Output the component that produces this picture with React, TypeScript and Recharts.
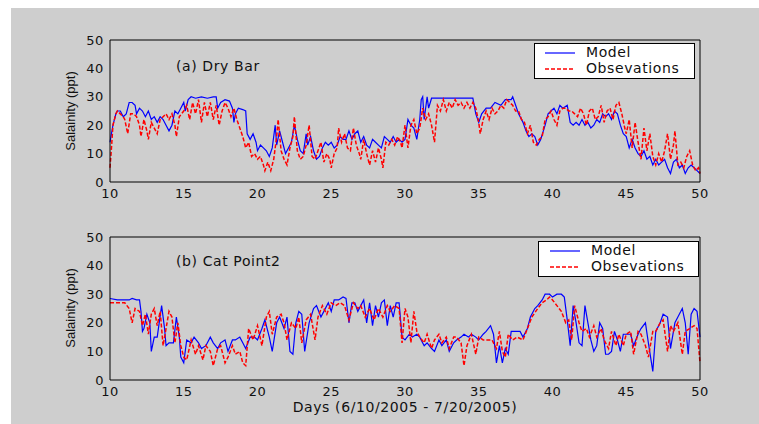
import React from 'react';
import { LineChart, Line, XAxis, YAxis } from 'recharts';

const dayTicks = [10, 15, 20, 25, 30, 35, 40, 45, 50];
const salinityTicks = [0, 10, 20, 30, 40, 50];

// (a) Dry Bar
const dryBarModel: [number, number][] = [
  [10, 14], [10.1, 17], [10.2, 20], [10.4, 24], [10.5, 25], [10.7, 25], [10.9, 23], [11.1, 24], [11.3, 28], [11.5, 28],
  [11.7, 27], [11.8, 24], [12, 26], [12.2, 25], [12.4, 23], [12.6, 25], [12.8, 22], [13, 23], [13.2, 21], [13.4, 23],
  [13.6, 22], [13.8, 20], [14, 18], [14.2, 20], [14.4, 25], [14.6, 24], [14.8, 26], [15, 28], [15.1, 25], [15.3, 29],
  [15.5, 30], [15.8, 29.5], [16.2, 30], [16.6, 29.5], [17, 30], [17.2, 30], [17.3, 26], [17.5, 28], [17.8, 29], [18.1, 28.5],
  [18.3, 26], [18.4, 21], [18.5, 24], [18.7, 26], [19, 25.5], [19.2, 25], [19.3, 17], [19.5, 15], [19.7, 17], [19.9, 14],
  [20, 11], [20.2, 13], [20.4, 12], [20.6, 11], [20.8, 9], [21, 12], [21.2, 20], [21.3, 13], [21.5, 18], [21.7, 14],
  [21.9, 10], [22.1, 12], [22.3, 14], [22.5, 20], [22.7, 15], [22.9, 11], [23.1, 10], [23.3, 17], [23.4, 13], [23.6, 16],
  [23.8, 11], [24, 8], [24.2, 9], [24.4, 12], [24.6, 14], [24.8, 13], [25, 14], [25.2, 12], [25.4, 13], [25.6, 16],
  [25.8, 15], [26, 15], [26.2, 18], [26.4, 15], [26.6, 17], [26.8, 18], [27, 14], [27.2, 16], [27.4, 13], [27.6, 12],
  [27.8, 15], [28, 14], [28.2, 13], [28.4, 12], [28.6, 16], [28.8, 15], [29, 14], [29.2, 16], [29.4, 14], [29.6, 15],
  [29.8, 14], [30, 15], [30.2, 22], [30.4, 20], [30.6, 19], [30.8, 15], [31, 22], [31.1, 29], [31.2, 30], [31.3, 22],
  [31.5, 30], [31.6, 26], [31.8, 29.5], [32.2, 29.5], [33, 29.5], [34, 29.5], [34.6, 29.5], [34.8, 24], [35, 21], [35.2, 24],
  [35.5, 26], [35.8, 26], [36.1, 28], [36.5, 27], [36.8, 29], [37.2, 29], [37.3, 30], [37.5, 27], [37.7, 24], [38, 21],
  [38.2, 18], [38.4, 16], [38.6, 17], [38.8, 16], [39, 13], [39.2, 15], [39.5, 20], [39.7, 24], [39.9, 25], [40.1, 26],
  [40.3, 24], [40.5, 27], [40.7, 26], [41, 27], [41.2, 21], [41.4, 20], [41.6, 21], [41.8, 20], [42, 22], [42.2, 20],
  [42.4, 21], [42.6, 19], [42.8, 20], [43, 22], [43.2, 21], [43.4, 24], [43.6, 23], [43.8, 24], [44, 22], [44.2, 25],
  [44.4, 24], [44.6, 20], [44.8, 17], [45, 16], [45.2, 12], [45.4, 15], [45.6, 12], [45.8, 10], [46, 9], [46.2, 11],
  [46.4, 8], [46.6, 9], [46.8, 6], [47, 8], [47.2, 6], [47.4, 7], [47.6, 8], [47.8, 5], [48, 3], [48.2, 7],
  [48.4, 8], [48.6, 5], [48.8, 6], [49, 3], [49.2, 5], [49.4, 6], [49.6, 5], [49.8, 4], [50, 3],
];

const dryBarObs: [number, number][] = [
  [10, 5], [10.1, 12], [10.2, 20], [10.4, 24], [10.5, 25], [10.7, 24], [10.9, 23], [11, 22], [11.2, 17], [11.4, 24],
  [11.6, 24], [11.8, 23], [12, 20], [12.1, 16], [12.3, 22], [12.5, 18], [12.6, 15], [12.8, 21], [13, 19], [13.2, 17],
  [13.4, 22], [13.6, 23], [13.8, 24], [14, 22], [14.2, 24], [14.4, 20], [14.5, 16], [14.7, 23], [15, 25], [15.2, 27],
  [15.4, 22], [15.6, 28], [15.8, 24], [16, 29], [16.2, 21], [16.4, 28], [16.6, 23], [16.8, 28], [17, 22], [17.2, 27],
  [17.4, 20], [17.6, 25], [17.8, 28], [18, 26], [18.2, 23], [18.4, 26], [18.6, 22], [18.8, 19], [19, 16], [19.2, 12],
  [19.4, 14], [19.6, 9], [19.8, 10], [20, 8], [20.2, 9], [20.4, 6], [20.5, 4], [20.7, 7], [20.9, 4], [21.1, 8],
  [21.3, 16], [21.4, 22], [21.6, 11], [21.8, 8], [22, 6], [22.2, 12], [22.4, 16], [22.5, 23], [22.7, 11], [22.9, 8],
  [23.1, 9], [23.3, 13], [23.5, 20], [23.7, 9], [23.9, 8], [24.1, 11], [24.3, 14], [24.5, 7], [24.7, 10], [24.9, 8],
  [25, 5], [25.2, 10], [25.4, 12], [25.5, 19], [25.7, 14], [25.9, 17], [26.1, 12], [26.3, 11], [26.5, 19], [26.7, 13],
  [26.9, 10], [27, 8], [27.2, 15], [27.4, 10], [27.6, 6], [27.8, 11], [28, 7], [28.2, 12], [28.4, 8], [28.5, 5],
  [28.7, 14], [28.9, 13], [29.1, 15], [29.3, 13], [29.5, 16], [29.7, 14], [29.8, 12], [30, 20], [30.2, 12], [30.4, 20],
  [30.6, 22], [30.8, 17], [31, 19], [31.2, 26], [31.4, 22], [31.6, 24], [31.8, 20], [32, 14], [32.2, 27], [32.4, 25],
  [32.6, 29], [32.8, 25], [33, 28], [33.2, 26], [33.4, 29], [33.6, 27], [33.8, 28], [34, 26], [34.2, 28], [34.4, 26],
  [34.6, 28], [34.8, 26], [35, 21], [35.1, 17], [35.3, 22], [35.5, 25], [35.7, 22], [35.9, 26], [36.1, 24], [36.3, 25],
  [36.5, 27], [36.7, 26], [36.9, 29], [37.1, 28], [37.3, 27], [37.5, 25], [37.7, 25], [37.9, 22], [38.1, 21], [38.3, 17],
  [38.5, 20], [38.7, 14], [38.9, 13], [39.1, 15], [39.3, 16], [39.5, 22], [39.7, 23], [39.9, 25], [40.1, 22], [40.3, 20],
  [40.5, 25], [40.7, 26], [40.9, 26], [41.1, 25], [41.3, 25], [41.5, 24], [41.7, 23], [41.9, 26], [42.1, 24], [42.3, 20],
  [42.5, 25], [42.7, 26], [42.9, 22], [43.1, 23], [43.3, 27], [43.5, 21], [43.7, 25], [43.9, 26], [44.1, 22], [44.3, 27],
  [44.5, 28], [44.7, 24], [44.9, 19], [45, 17], [45.2, 22], [45.4, 12], [45.6, 21], [45.8, 14], [46, 8], [46.2, 19],
  [46.4, 11], [46.6, 17], [46.8, 9], [47, 6], [47.2, 10], [47.4, 7], [47.6, 11], [47.8, 17], [48, 8], [48.2, 13],
  [48.3, 18], [48.5, 6], [48.7, 7], [48.9, 5], [49.1, 9], [49.3, 11], [49.5, 6], [49.7, 4], [49.9, 5], [50, 3],
];

// (b) Cat Point2
const catPointModel: [number, number][] = [
  [10, 28.5], [10.5, 28], [11, 28], [11.3, 28], [11.5, 28.5], [11.8, 28], [12, 28], [12.1, 24], [12.2, 17], [12.3, 18],
  [12.5, 23], [12.7, 20], [12.8, 10], [13, 15], [13.2, 15], [13.5, 26], [13.7, 18], [13.8, 12], [14, 13], [14.3, 13],
  [14.5, 22], [14.7, 15], [14.8, 8], [15, 6], [15.2, 14], [15.5, 13], [15.7, 15], [16, 13], [16.2, 11], [16.5, 12],
  [16.8, 15], [17, 13], [17.3, 11], [17.5, 13], [17.8, 14], [18, 10], [18.3, 14], [18.5, 14], [18.8, 15], [19, 13],
  [19.2, 11], [19.5, 15], [19.8, 15], [20, 14], [20.3, 18], [20.5, 21], [20.8, 15], [21, 10], [21.3, 20], [21.5, 22],
  [21.8, 18], [22, 22], [22.2, 10], [22.4, 9], [22.6, 20], [22.8, 24], [23, 23], [23.2, 10], [23.5, 20], [23.8, 25],
  [24, 26], [24.3, 22], [24.5, 24], [24.8, 27], [25, 24], [25.2, 28], [25.5, 28], [25.8, 29], [26, 28.5], [26.2, 20],
  [26.4, 27], [26.6, 27], [26.8, 24], [27, 26], [27.2, 28], [27.4, 20], [27.6, 27], [27.8, 19], [28, 26], [28.2, 22],
  [28.4, 27], [28.6, 28], [28.8, 19], [29, 26], [29.2, 22], [29.4, 27], [29.6, 27], [29.8, 15], [30, 14], [30.3, 16],
  [30.5, 15], [30.8, 16], [31, 15], [31.3, 12], [31.5, 13], [31.8, 11], [32, 10], [32.3, 14], [32.5, 12], [32.8, 14],
  [33, 10], [33.3, 13], [33.5, 14], [33.8, 15], [34, 16], [34.3, 15], [34.5, 16], [34.8, 15], [35, 14], [35.3, 16],
  [35.5, 17], [35.8, 19], [36, 16], [36.2, 6], [36.4, 12], [36.6, 6], [36.8, 11], [37, 9], [37.2, 17], [37.5, 17],
  [37.8, 17], [38, 15], [38.3, 18], [38.5, 22], [38.8, 25], [39, 26], [39.3, 28], [39.5, 30], [39.8, 30], [40, 29],
  [40.3, 30], [40.6, 30], [40.8, 29], [41, 21], [41.2, 12], [41.4, 26], [41.6, 20], [41.8, 13], [42, 12], [42.2, 26],
  [42.4, 20], [42.6, 14], [42.8, 10], [43, 12], [43.2, 20], [43.4, 18], [43.6, 9], [43.8, 9], [44, 10], [44.2, 17],
  [44.4, 14], [44.6, 10], [44.8, 16], [45, 16], [45.3, 16], [45.5, 12], [45.8, 16], [46, 18], [46.3, 20], [46.5, 13],
  [46.8, 3], [47, 17], [47.3, 20], [47.5, 23], [47.8, 22], [48, 11], [48.3, 20], [48.5, 22], [48.8, 25], [49, 20],
  [49.2, 9], [49.4, 23], [49.6, 25], [49.8, 24], [50, 15],
];

const catPointObs: [number, number][] = [
  [10, 27], [10.5, 27], [11, 27], [11.3, 25], [11.5, 20], [11.7, 25], [12, 24], [12.2, 19], [12.4, 23], [12.6, 16],
  [12.8, 23], [13, 25], [13.2, 19], [13.4, 24], [13.6, 12], [13.8, 18], [14, 24], [14.2, 22], [14.4, 13], [14.6, 20],
  [14.8, 12], [15, 8], [15.2, 7], [15.5, 14], [15.8, 9], [16, 12], [16.3, 7], [16.5, 12], [16.8, 10], [17, 5],
  [17.3, 11], [17.5, 12], [17.8, 6], [18, 8], [18.3, 12], [18.5, 9], [18.8, 10], [19, 6], [19.2, 5], [19.4, 18],
  [19.7, 14], [20, 19], [20.3, 12], [20.6, 22], [20.8, 24], [21, 16], [21.3, 22], [21.6, 23], [21.8, 20], [22, 14],
  [22.3, 20], [22.6, 18], [22.8, 22], [23, 13], [23.3, 21], [23.6, 23], [23.9, 14], [24.1, 22], [24.4, 26], [24.7, 23],
  [25, 27], [25.3, 26], [25.6, 27], [25.9, 26], [26.2, 21], [26.5, 27], [26.8, 25], [27, 26], [27.3, 22], [27.6, 25],
  [27.9, 21], [28.2, 25], [28.5, 22], [28.8, 26], [29, 24], [29.3, 26], [29.6, 25], [29.8, 13], [30, 25], [30.2, 22],
  [30.4, 13], [30.6, 24], [30.8, 17], [31, 15], [31.3, 13], [31.5, 16], [31.8, 11], [32, 14], [32.3, 16], [32.5, 13],
  [32.8, 15], [33, 11], [33.3, 15], [33.5, 15], [33.8, 13], [34, 5], [34.2, 12], [34.5, 16], [34.8, 9], [35, 15],
  [35.3, 14], [35.6, 14], [35.9, 14], [36.2, 11], [36.4, 17], [36.6, 10], [36.8, 8], [37, 16], [37.3, 14], [37.6, 15],
  [38, 14], [38.3, 18], [38.6, 22], [39, 25], [39.3, 27], [39.6, 28], [39.8, 29], [40, 28], [40.3, 26], [40.6, 24],
  [40.9, 20], [41.1, 21], [41.3, 14], [41.5, 26], [41.8, 20], [42, 17], [42.3, 18], [42.5, 15], [42.8, 19], [43, 15],
  [43.3, 18], [43.5, 14], [43.8, 11], [44, 17], [44.3, 12], [44.5, 16], [44.8, 12], [45, 16], [45.3, 17], [45.5, 9],
  [45.8, 17], [46, 16], [46.3, 12], [46.5, 8], [46.8, 17], [47, 17], [47.3, 20], [47.5, 21], [47.8, 10], [48, 19],
  [48.2, 17], [48.5, 20], [48.8, 9], [49, 17], [49.3, 18], [49.6, 19], [49.8, 18], [50, 6],
];

const BG = '#cecece';
const TICK_FONT = { fontFamily: 'DejaVu Sans', fontSize: 13, fill: '#111', letterSpacing: 0.6 };

const toRows = (pts: [number, number][]) => pts.map(([day, v]) => ({ day, v }));

type PanelProps = {
  model: [number, number][];
  obs: [number, number][];
  top: number;
  height: number;
  marginTop: number;
  marginBottom: number;
};

const Panel = ({ model, obs, top, height, marginTop, marginBottom }: PanelProps) => (
  <div style={{ position: 'absolute', left: 0, top }}>
    <LineChart
      width={748}
      height={height}
      margin={{ top: marginTop, right: 59, bottom: marginBottom, left: 59 }}
    >
      {/* labelled axes */}
      <XAxis
        xAxisId="x"
        dataKey="day"
        type="number"
        domain={[10, 50]}
        ticks={dayTicks}
        height={30}
        tickLine={false}
        tickSize={0}
        tickMargin={7}
        axisLine={{ stroke: '#000' }}
        tick={TICK_FONT}
      />
      <YAxis
        yAxisId="y"
        type="number"
        domain={[0, 50]}
        ticks={salinityTicks}
        width={40}
        tickLine={false}
        tickSize={0}
        tickMargin={6}
        axisLine={{ stroke: '#000' }}
        tick={TICK_FONT}
      />
      {/* inward tick marks, box */}
      <XAxis xAxisId="xb" dataKey="day" type="number" domain={[10, 50]} ticks={dayTicks} mirror tick={false} tickSize={5} axisLine={false} tickLine={{ stroke: '#000' }} />
      <XAxis xAxisId="xt" dataKey="day" type="number" orientation="top" domain={[10, 50]} ticks={dayTicks} mirror tick={false} tickSize={5} axisLine={{ stroke: '#000' }} tickLine={{ stroke: '#000' }} />
      <YAxis yAxisId="yl" type="number" domain={[0, 50]} ticks={salinityTicks} mirror tick={false} tickSize={5} axisLine={false} tickLine={{ stroke: '#000' }} />
      <YAxis yAxisId="yr" type="number" orientation="right" domain={[0, 50]} ticks={salinityTicks} mirror tick={false} tickSize={5} axisLine={{ stroke: '#000' }} tickLine={{ stroke: '#000' }} />
      <Line
        xAxisId="x"
        yAxisId="y"
        data={toRows(model)}
        dataKey="v"
        type="linear"
        stroke="#0000ff"
        strokeWidth={1.2}
        dot={false}
        isAnimationActive={false}
      />
      <Line
        xAxisId="x"
        yAxisId="y"
        data={toRows(obs)}
        dataKey="v"
        type="linear"
        stroke="#ff0000"
        strokeWidth={1.5}
        strokeDasharray="4 2"
        dot={false}
        isAnimationActive={false}
      />
    </LineChart>
  </div>
);

const LegendBox = ({ left, top, lineX, textX }: { left: number; top: number; lineX: number; textX: number }) => (
  <div
    style={{
      position: 'absolute',
      left,
      top,
      width: 161,
      height: 36,
      boxSizing: 'border-box',
      background: '#fff',
      border: '1px solid #000',
      fontFamily: 'DejaVu Sans',
      fontSize: 14,
      letterSpacing: 0.6,
      color: '#111',
    }}
  >
    <svg width={40} height={34} style={{ position: 'absolute', left: lineX, top: 0 }}>
      <line x1={0} x2={30} y1={9} y2={9} stroke="#0000ff" strokeWidth={1.2} />
      <line x1={0} x2={30} y1={25} y2={25} stroke="#ff0000" strokeWidth={1.5} strokeDasharray="4 2" />
    </svg>
    <div style={{ position: 'absolute', left: textX, top: 0, lineHeight: '16px' }}>Model</div>
    <div style={{ position: 'absolute', left: textX, top: 16, lineHeight: '16px' }}>Obsevations</div>
  </div>
);

const textStyle: React.CSSProperties = {
  position: 'absolute',
  fontFamily: 'DejaVu Sans',
  fontSize: 14,
  letterSpacing: 0.6,
  color: '#111',
  whiteSpace: 'nowrap',
};

const YLabel = ({ cy }: { cy: number }) => (
  <div
    style={{
      position: 'absolute',
      left: 59,
      top: cy,
      transform: 'translate(-50%, -50%) rotate(-90deg)',
      fontFamily: '"Liberation Sans", Arial, sans-serif',
      fontSize: 13,
      color: '#111',
      whiteSpace: 'nowrap',
    }}
  >
    Salainity (ppt)
  </div>
);

export default function App() {
  return (
    <div style={{ position: 'absolute', left: 11, top: 8, width: 748, height: 416, background: BG, overflow: 'hidden' }}>
      <Panel model={dryBarModel} obs={dryBarObs} top={0} height={212} marginTop={32} marginBottom={8} />
      <Panel model={catPointModel} obs={catPointObs} top={212} height={204} marginTop={17} marginBottom={14} />
      <LegendBox left={523} top={35} lineX={10} textX={51} />
      <LegendBox left={527} top={233} lineX={11} textX={52} />
      <div style={{ ...textStyle, left: 165, top: 50 }}>(a) Dry Bar</div>
      <div style={{ ...textStyle, left: 165, top: 245 }}>(b) Cat Point2</div>
      <YLabel cy={103} />
      <YLabel cy={300} />
      <div style={{ ...textStyle, left: 394, top: 391, transform: 'translateX(-50%)' }}>
        Days (6/10/2005 - 7/20/2005)
      </div>
    </div>
  );
}
